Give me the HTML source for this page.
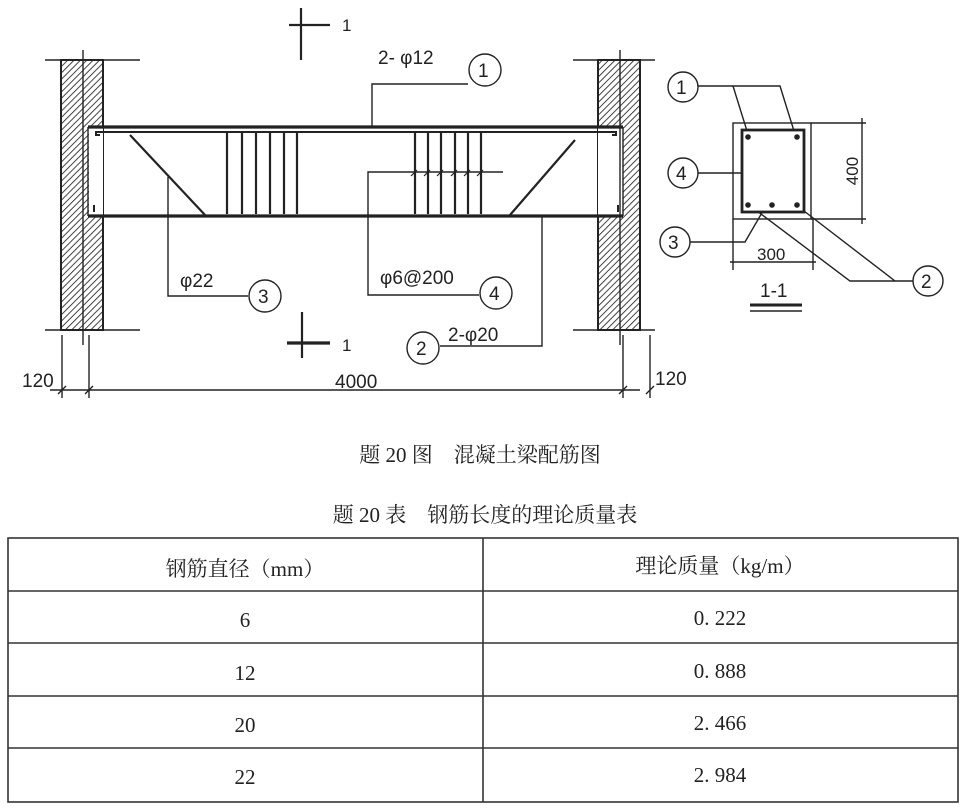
<!DOCTYPE html>
<html><head><meta charset="utf-8"><style>
body{margin:0;background:#fff;width:963px;height:811px;overflow:hidden}
svg{display:block}
.c{font-family:"Liberation Sans","DejaVu Sans",sans-serif;fill:#222}
.s{font-family:"Liberation Serif","Noto Serif CJK SC",serif;fill:#222}
</style></head><body>
<svg width="963" height="811" viewBox="0 0 963 811" xmlns="http://www.w3.org/2000/svg">
<defs>
<pattern id="h" width="4.5" height="4.5" patternUnits="userSpaceOnUse" patternTransform="rotate(45)">
<line x1="0" y1="0" x2="0" y2="4.5" stroke="#222" stroke-width="1.7"/>
</pattern>
</defs>
<g stroke="#222" fill="none" stroke-width="1.4">
<rect x="61" y="60" width="42" height="270" fill="url(#h)" stroke-width="2"/>
<rect x="89" y="127" width="14" height="89" fill="#fff" stroke="none"/>
<line x1="45" y1="60" x2="140" y2="60"/><line x1="45" y1="330" x2="140" y2="330"/>
<line x1="83" y1="50" x2="83" y2="345"/>
<rect x="598" y="60" width="42" height="270" fill="url(#h)" stroke-width="2"/>
<rect x="598" y="127" width="25" height="89" fill="#fff" stroke="none"/>
<line x1="573" y1="60" x2="655" y2="60"/><line x1="573" y1="330" x2="655" y2="330"/>
<line x1="620" y1="50" x2="620" y2="345"/>
<line x1="88" y1="127" x2="623" y2="127" stroke-width="3.2"/>
<line x1="88" y1="216" x2="623" y2="216" stroke-width="3.2"/>
<line x1="88" y1="127" x2="88" y2="216"/>
<line x1="623" y1="127" x2="623" y2="216"/>
<path d="M100 135 h-4 v-3 h520 v3 h-4" stroke-width="2"/>
<line x1="94" y1="205" x2="94" y2="212" stroke-width="2"/><line x1="618" y1="205" x2="618" y2="212" stroke-width="2"/>
<line x1="130" y1="135" x2="205" y2="215" stroke-width="2.2"/>
<line x1="575" y1="140" x2="510" y2="215" stroke-width="2.2"/>
<g stroke-width="2.2">
<line x1="227" y1="132" x2="227" y2="214"/><line x1="242" y1="132" x2="242" y2="214"/><line x1="256" y1="132" x2="256" y2="214"/><line x1="270" y1="132" x2="270" y2="214"/><line x1="284" y1="132" x2="284" y2="214"/><line x1="297" y1="132" x2="297" y2="214"/>
<line x1="415" y1="132" x2="415" y2="214"/><line x1="428" y1="132" x2="428" y2="214"/><line x1="441" y1="132" x2="441" y2="214"/><line x1="455" y1="132" x2="455" y2="214"/><line x1="468" y1="132" x2="468" y2="214"/><line x1="481" y1="132" x2="481" y2="214"/>
</g>
<g stroke-width="1.2"><path d="M411 176 l6 -6 M424 176 l6 -6 M437 176 l6 -6 M451 176 l6 -6 M464 176 l6 -6 M477 176 l6 -6"/></g>
<polyline points="372,127 372,84 468,84"/>
<polyline points="168,177 168,296 248,296"/>
<polyline points="503,172 368,172 368,295 479,295"/>
<polyline points="542,216 542,346 440,346"/>
<circle cx="485" cy="70" r="16"/><circle cx="265" cy="296" r="16"/><circle cx="496" cy="293" r="16"/><circle cx="423" cy="348" r="16"/>
<line x1="301" y1="8" x2="301" y2="60" stroke-width="2.2"/><line x1="289" y1="25" x2="330" y2="25" stroke-width="2.2"/>
<line x1="302" y1="312" x2="302" y2="358" stroke-width="2.2"/><line x1="287" y1="343" x2="330" y2="343" stroke-width="3.2"/>
<line x1="50" y1="390" x2="640" y2="390"/>
<line x1="62" y1="335" x2="62" y2="398"/><line x1="89" y1="335" x2="89" y2="398"/><line x1="623" y1="335" x2="623" y2="398"/><line x1="650" y1="335" x2="650" y2="398"/>
<path d="M58 394 l8 -8 M85 394 l8 -8 M619 394 l8 -8 M646 394 l8 -8"/>
<rect x="733" y="123" width="78" height="96"/>
<rect x="742" y="130" width="62" height="82" stroke-width="2.8"/>
<line x1="811" y1="123" x2="866" y2="123"/><line x1="811" y1="219" x2="866" y2="219"/>
<line x1="862" y1="118" x2="862" y2="224"/>
<line x1="733" y1="219" x2="733" y2="270"/><line x1="813" y1="219" x2="813" y2="270"/>
<line x1="730" y1="262" x2="816" y2="262"/>
<line x1="750" y1="305" x2="802" y2="305" stroke-width="3"/><line x1="750" y1="311" x2="802" y2="311"/>
<circle cx="683" cy="87" r="15"/><circle cx="683" cy="173" r="15"/><circle cx="675" cy="242" r="15"/><circle cx="928" cy="281" r="15"/>
<polyline points="698,86 780,86 794,131"/><line x1="733" y1="86" x2="747" y2="131"/>
<line x1="698" y1="173" x2="742" y2="173"/>
<polyline points="690,242 745,242 763,211"/>
<polyline points="913,281 850,281 757,211"/><line x1="895" y1="281" x2="804" y2="211"/>
</g>
<g fill="#222"><circle cx="748" cy="137" r="2.8"/><circle cx="797" cy="137" r="2.8"/><circle cx="748" cy="205" r="2.8"/><circle cx="772" cy="205" r="2.8"/><circle cx="797" cy="205" r="2.8"/></g>
<g class="c" font-size="19">
<text x="342" y="31" font-size="17">1</text>
<text x="342" y="351" font-size="17">1</text>
<text x="378" y="64">2- φ12</text>
<text x="478" y="77">1</text><text x="258" y="303">3</text><text x="489" y="300">4</text><text x="416" y="355">2</text>
<text x="180" y="287">φ22</text>
<text x="380" y="284">φ6@200</text>
<text x="448" y="341">2-φ20</text>
<text x="22" y="387">120</text><text x="335" y="388">4000</text><text x="655" y="385">120</text>
<text x="676" y="94">1</text><text x="676" y="180">4</text><text x="668" y="249">3</text><text x="921" y="288">2</text>
<text x="757" y="260" font-size="17">300</text>
<text x="760" y="297">1-1</text>
<text transform="translate(858,171) rotate(-90)" text-anchor="middle" font-size="17">400</text>
</g>
<g class="s" font-size="21" text-anchor="middle">
<text x="480" y="462">题 20 图　混凝土梁配筋图</text>
<text x="485" y="522">题 20 表　钢筋长度的理论质量表</text>
<text x="245" y="576">钢筋直径（mm）</text><text x="720" y="573">理论质量（kg/m）</text>
<text x="245" y="627">6</text><text x="720" y="625">0. 222</text>
<text x="245" y="680">12</text><text x="720" y="678">0. 888</text>
<text x="245" y="732">20</text><text x="720" y="730">2. 466</text>
<text x="245" y="784">22</text><text x="720" y="782">2. 984</text>
</g>
<g stroke="#333" stroke-width="1.6" fill="none">
<rect x="8" y="538" width="950" height="264"/>
<line x1="483" y1="538" x2="483" y2="802"/>
<line x1="8" y1="591" x2="958" y2="591"/><line x1="8" y1="643" x2="958" y2="643"/><line x1="8" y1="696" x2="958" y2="696"/><line x1="8" y1="748" x2="958" y2="748"/>
</g>
</svg>
</body></html>
